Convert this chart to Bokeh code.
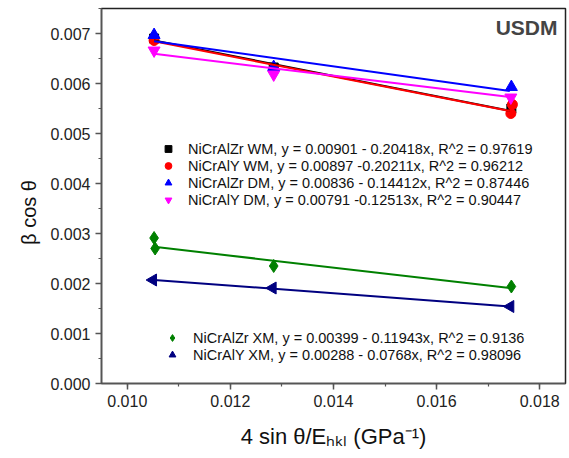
import math
from bokeh.plotting import figure
from bokeh.models import (Range1d, SingleIntervalTicker, NumeralTickFormatter, Label,
                          Legend, LegendItem)
from bokeh.embed import file_html
from bokeh.resources import INLINE

# ---- data ----
x_zr_wm = [0.01052, 0.01284, 0.01745]
y_zr_wm = [0.00690, 0.00632, 0.00550]
x_y_wm = [0.01052, 0.01284, 0.01744, 0.01747]
y_y_wm = [0.00686, 0.00628, 0.00540, 0.00558]
x_zr_dm = [0.01052, 0.01284, 0.01745]
y_zr_dm = [0.00697, 0.00633, 0.00593]
x_y_dm = [0.01052, 0.01284, 0.01744]
y_y_dm = [0.00666, 0.00618, 0.00572]
x_zr_xm = [0.01052, 0.01054, 0.01284, 0.01745]
y_zr_xm = [0.00291, 0.00270, 0.00235, 0.00194]
x_y_xm = [0.01050, 0.01282, 0.01743]
y_y_xm = [0.00207, 0.00191, 0.00154]

# linear-fit coefficients printed in the legend
intercepts = [0.00901, 0.00897, 0.00836, 0.00791, 0.00399, 0.00288]
slopes = [-0.20418, -0.20211, -0.14412, -0.12513, -0.11943, -0.0768]
fit_x = [0.01052, 0.01742]

labels = [
    "NiCrAlZr WM, y = 0.00901 - 0.20418x, R^2 = 0.97619",
    "NiCrAlY WM, y = 0.00897 -0.20211x, R^2 = 0.96212",
    "NiCrAlZr DM, y = 0.00836 - 0.14412x, R^2 = 0.87446",
    "NiCrAlY DM, y = 0.00791 -0.12513x, R^2 = 0.90447",
    "NiCrAlZr XM, y = 0.00399 - 0.11943x, R^2 = 0.9136",
    "NiCrAlY XM, y = 0.00288 - 0.0768x, R^2 = 0.98096",
]
colors = ["#000000", "#FF0000", "#0000FF", "#FF00FF", "#008000", "#000080"]
markers = ["square", "circle", "triangle", "inverted_triangle", "diamond", "triangle"]
angles = [0, 0, 0, 0, 0, math.pi / 2]
sizes = [9, 10, 12, 12, 13, 12]
xs = [x_zr_wm, x_y_wm, x_zr_dm, x_y_dm, x_zr_xm, x_y_xm]
ys = [y_zr_wm, y_y_wm, y_zr_dm, y_y_dm, y_zr_xm, y_y_xm]

x_title = "4 sin \u03b8/E\u2095\u2096\u2097 (GPa\u207b\u00b9)"
y_title = "\u03b2 cos \u03b8"

FONT = "Liberation Sans"

p = figure(width=569, height=458, output_backend="svg", toolbar_location=None,
           x_range=Range1d(0.0095, 0.0185), y_range=Range1d(0.0, 0.0075),
           min_border_left=101, min_border_right=4, min_border_top=8, min_border_bottom=75)
p.background_fill_color = "white"
p.border_fill_color = "white"
p.outline_line_color = "#222222"
p.outline_line_width = 1.5
p.xgrid.visible = False
p.ygrid.visible = False

p.xaxis.ticker = SingleIntervalTicker(interval=0.002, num_minor_ticks=2)
p.yaxis.ticker = SingleIntervalTicker(interval=0.001, num_minor_ticks=2)
p.xaxis.formatter = NumeralTickFormatter(format="0.000")
p.yaxis.formatter = NumeralTickFormatter(format="0.000")
for ax in (p.xaxis[0], p.yaxis[0]):
    ax.axis_line_color = "#555555"
    ax.axis_line_width = 1.5
    ax.major_tick_line_color = "#555555"
    ax.minor_tick_line_color = "#555555"
    ax.major_tick_line_width = 1.5
    ax.minor_tick_line_width = 1.2
    ax.major_tick_out = 6
    ax.major_tick_in = 0
    ax.minor_tick_out = 3
    ax.minor_tick_in = 0
    ax.major_label_text_font = FONT
    ax.major_label_text_font_size = "16px"
    ax.major_label_text_color = "#222222"
    ax.major_label_standoff = 5

p.xaxis.axis_label = x_title
p.xaxis.axis_label_text_font = FONT
p.xaxis.axis_label_text_font_style = "normal"
p.xaxis.axis_label_text_font_size = "22px"
p.xaxis.axis_label_text_color = "#111111"
p.xaxis.axis_label_standoff = 14

scatter_renderers = []
for i in range(6):
    r = p.scatter(xs[i], ys[i], marker=markers[i], size=sizes[i], angle=angles[i],
                  fill_color=colors[i], line_color=colors[i])
    scatter_renderers.append(r)
for i in range(6):
    fy = [intercepts[i] + slopes[i] * x for x in fit_x]
    p.line(fit_x, fy, line_color=colors[i], line_width=2)

def make_legend(idx, loc, standoff):
    leg = Legend(items=[LegendItem(label=labels[i], renderers=[scatter_renderers[i]]) for i in idx],
                 location=loc, orientation="vertical")
    leg.border_line_color = None
    leg.background_fill_alpha = 0
    leg.padding = 0
    leg.margin = 0
    leg.spacing = 0
    leg.glyph_width = 24
    leg.glyph_height = 17
    leg.label_height = 17
    leg.label_standoff = standoff
    leg.label_text_font = FONT
    leg.label_text_font_size = "14.5px"
    leg.label_text_color = "#111111"
    return leg

p.add_layout(make_legend([0, 1, 2, 3], (55, 175), 8))
p.add_layout(make_legend([4, 5], (59, 20), 9))

# title text
p.add_layout(Label(x=0.0185, y=0.0075, x_offset=-8, y_offset=-19, text="USDM",
                   text_align="right", text_baseline="alphabetic",
                   text_font=FONT, text_font_style="bold", text_font_size="21px"))

# y axis title (placed in the left panel so it is not clipped by the frame)
p.add_layout(Label(x=0.0095, y=0.00342, x_offset=-73, text=y_title,
                   angle=math.pi / 2, text_align="center", text_baseline="middle",
                   text_font=FONT, text_font_size="20px", text_color="#111111"), "left")

open("out.html", "w").write(file_html(p, INLINE))
